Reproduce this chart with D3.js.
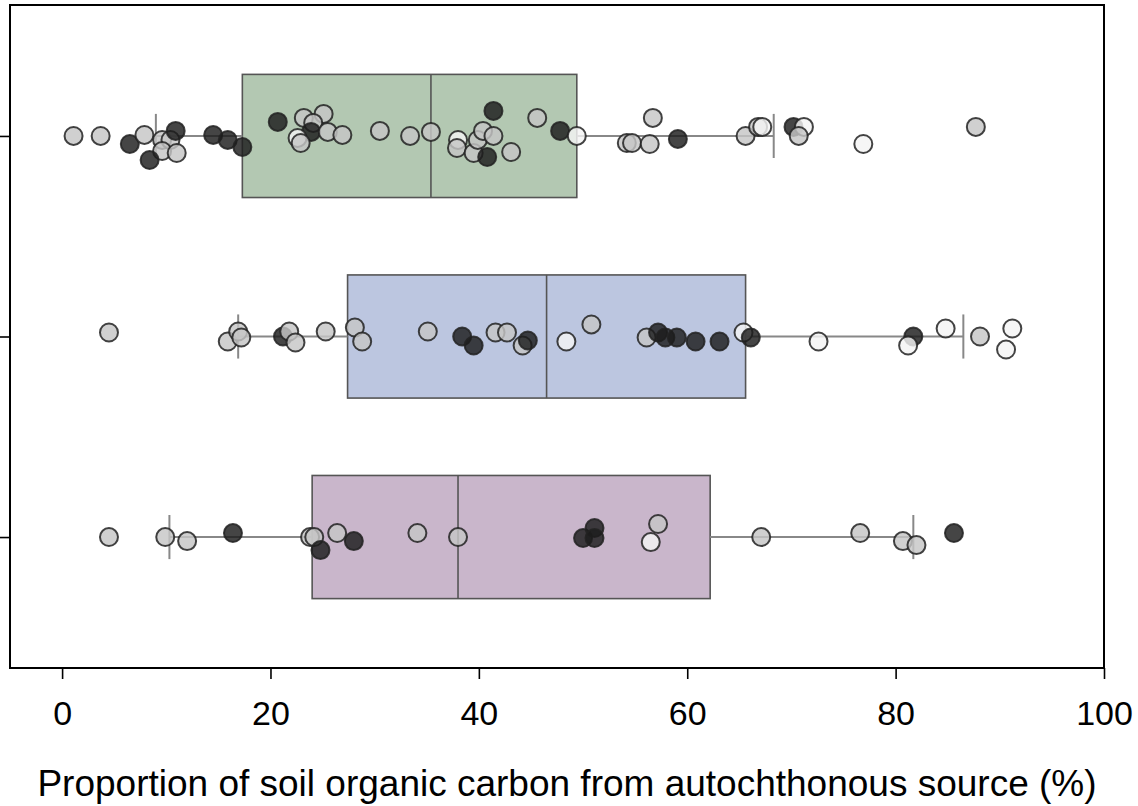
<!DOCTYPE html>
<html lang="en">
<head>
    <meta charset="UTF-8">
    <title>soil carbon</title>
    <style>
        body { margin: 0; background: #fff; }
        svg text { font-family: "Liberation Sans", Arial, sans-serif; }
    </style>
</head>
<body>
    <div class="canvas"></div>

    <script src="https://d3js.org/d3.v7.min.js"></script>
    <script>
        // groups (no labels on the y axis in the original)
        const groups = ['g1', 'g2', 'g3'];
        const boxFill = ['#b3c8b2', '#bcc6e0', '#c9b6cb'];

        // box stats
        const q1 = [17.3, 27.4, 24.0];
        const median = [35.4, 46.5, 38.0];
        const q3 = [49.4, 65.6, 62.2];
        const whiskLo = [9.0, 16.9, 10.3];
        const whiskHi = [68.3, 86.5, 81.7];

        // points: value, vertical jitter (fraction of half step), type D=dark G=grey W=white
        const vals1 = [1.1, 3.7, 6.5, 7.9, 9.6, 10.4, 10.9, 9.6, 11.0, 8.4, 14.5, 15.9, 17.3, 20.7, 23.2, 25.1, 24.1, 23.9, 25.5, 26.9,
            22.6, 22.9, 30.5, 33.4, 35.4, 38.0, 37.9, 39.5, 39.9, 40.4, 41.4, 40.8, 41.4, 43.1, 45.6, 47.8, 49.4, 54.2, 54.7, 56.4,
            56.7, 59.1, 65.6, 66.8, 67.2, 70.2, 71.2, 70.7, 76.9, 87.7];
        const jit1 = [0, 0, 0.08, -0.01, 0.04, 0.04, -0.05, 0.15, 0.17, 0.24, -0.01, 0.04, 0.11, -0.14, -0.18, -0.22, -0.13, -0.04, -0.04, -0.01,
            0.02, 0.07, -0.05, 0, -0.04, 0.04, 0.12, 0.17, 0.04, -0.05, 0, 0.21, -0.25, 0.16, -0.18, -0.05, 0, 0.07, 0.07, 0.08,
            -0.18, 0.03, 0, -0.09, -0.09, -0.09, -0.09, 0, 0.08, -0.09];
        const type1 = ['G', 'G', 'D', 'G', 'G', 'G', 'D', 'G', 'G', 'D', 'D', 'D', 'D', 'D', 'G', 'G', 'G', 'D', 'G', 'G',
            'W', 'G', 'G', 'G', 'G', 'W', 'G', 'G', 'G', 'G', 'G', 'D', 'D', 'G', 'G', 'D', 'W', 'G', 'G', 'G',
            'G', 'D', 'G', 'G', 'W', 'D', 'W', 'G', 'W', 'G'];

        const vals2 = [4.5, 15.9, 16.9, 17.2, 21.2, 21.8, 22.4, 25.3, 28.1, 28.8, 35.1, 38.4, 39.5, 41.6, 42.7, 44.2, 44.7, 48.4, 50.8, 56.1,
            57.2, 57.9, 59.0, 60.8, 63.1, 65.4, 66.1, 72.6, 81.7, 81.2, 84.8, 88.1, 91.2, 90.6];
        const jit2 = [-0.04, 0.05, -0.05, 0.01, 0, -0.05, 0.06, -0.05, -0.09, 0.05, -0.05, 0, 0.09, -0.04, -0.04, 0.09, 0.04, 0.05, -0.12, 0.01,
            -0.04, 0.01, 0.01, 0.05, 0.05, -0.04, 0.01, 0.05, 0, 0.09, -0.08, 0, -0.08, 0.13];
        const type2 = ['G', 'G', 'G', 'G', 'D', 'G', 'G', 'G', 'G', 'G', 'G', 'D', 'D', 'G', 'G', 'G', 'D', 'W', 'G', 'G',
            'D', 'D', 'D', 'D', 'D', 'W', 'D', 'W', 'D', 'W', 'W', 'G', 'W', 'W'];

        const vals3 = [4.5, 9.9, 12.0, 16.4, 23.8, 24.2, 24.8, 26.4, 28.0, 34.1, 38.0, 50.0, 51.1, 51.1, 57.2, 56.5, 67.1, 76.6, 80.7, 82.0, 85.6];
        const jit3 = [0, 0, 0.04, -0.04, 0, 0, 0.13, -0.04, 0.04, -0.04, 0, 0.01, -0.09, 0.01, -0.13, 0.05, 0, -0.04, 0.04, 0.08, -0.04];
        const type3 = ['G', 'G', 'G', 'D', 'G', 'G', 'D', 'G', 'D', 'G', 'G', 'D', 'D', 'D', 'G', 'W', 'G', 'G', 'G', 'G', 'D'];

        const xTicks = [0, 20, 40, 60, 80, 100];
        const xTitle = 'Proportion of soil organic carbon from autochthonous source (%)';

        const W = 1138, H = 806;
        const plot = { left: 10, top: 5, right: 1104, bottom: 668 };

        const svg = d3.select('.canvas')
            .append('svg')
            .attr('width', W)
            .attr('height', H);

        const x = d3.scaleLinear().domain([-5, 100]).range([plot.left, plot.right]);
        const y = d3.scalePoint().domain(groups).range([plot.top, plot.bottom]).padding(0.653);
        const step = y.step();
        const jitter = d3.scaleLinear().domain([-1, 1]).range([-step / 2, step / 2]);

        const fillOf = { D: '#1c1c1c', G: '#c6c6c6', W: '#f4f4f4' };

        // boxes
        const boxes = groups.map((g, i) => ({ g, i }));
        const bh = step * 0.307;
        const cap = step * 0.11;

        const bx = svg.append('g');
        bx.selectAll('rect.box')
            .data(boxes)
            .enter()
            .append('rect')
            .attr('class', 'box')
            .attr('x', d => x(q1[d.i]))
            .attr('y', d => y(d.g) - bh)
            .attr('width', d => x(q3[d.i]) - x(q1[d.i]))
            .attr('height', bh * 2)
            .attr('fill', d => boxFill[d.i])
            .attr('stroke', '#555')
            .attr('stroke-width', 1.6);

        bx.selectAll('line.med')
            .data(boxes)
            .enter()
            .append('line')
            .attr('x1', d => x(median[d.i]))
            .attr('x2', d => x(median[d.i]))
            .attr('y1', d => y(d.g) - bh)
            .attr('y2', d => y(d.g) + bh)
            .attr('stroke', '#555')
            .attr('stroke-width', 1.6);

        // whiskers
        const wh = [];
        boxes.forEach(d => {
            wh.push({ x1: whiskLo[d.i], x2: q1[d.i], g: d.g });
            wh.push({ x1: q3[d.i], x2: whiskHi[d.i], g: d.g });
        });
        bx.selectAll('line.wh')
            .data(wh)
            .enter()
            .append('line')
            .attr('x1', d => x(d.x1))
            .attr('x2', d => x(d.x2))
            .attr('y1', d => y(d.g))
            .attr('y2', d => y(d.g))
            .attr('stroke', '#888')
            .attr('stroke-width', 2);

        const caps = [];
        boxes.forEach(d => {
            caps.push({ v: whiskLo[d.i], g: d.g });
            caps.push({ v: whiskHi[d.i], g: d.g });
        });
        bx.selectAll('line.cap')
            .data(caps)
            .enter()
            .append('line')
            .attr('x1', d => x(d.v))
            .attr('x2', d => x(d.v))
            .attr('y1', d => y(d.g) - cap)
            .attr('y2', d => y(d.g) + cap)
            .attr('stroke', '#888')
            .attr('stroke-width', 2);

        // points
        const pts = [];
        [[vals1, jit1, type1], [vals2, jit2, type2], [vals3, jit3, type3]].forEach((s, gi) => {
            s[0].forEach((v, k) => pts.push({ v, j: s[1][k], t: s[2][k], g: groups[gi] }));
        });

        svg.append('g')
            .selectAll('circle')
            .data(pts)
            .enter()
            .append('circle')
            .attr('cx', d => x(d.v))
            .attr('cy', d => y(d.g) + jitter(d.j))
            .attr('r', 9)
            .attr('fill', d => fillOf[d.t])
            .attr('fill-opacity', 0.82)
            .attr('stroke', '#222')
            .attr('stroke-opacity', 0.85)
            .attr('stroke-width', 2);

        // frame
        svg.append('rect')
            .attr('x', plot.left)
            .attr('y', plot.top)
            .attr('width', plot.right - plot.left)
            .attr('height', plot.bottom - plot.top)
            .attr('fill', 'none')
            .attr('stroke', '#000')
            .attr('stroke-width', 2);

        // axes
        const xAxis = svg.append('g')
            .attr('transform', `translate(0,${plot.bottom})`)
            .call(d3.axisBottom(x).tickValues(xTicks).tickSize(11).tickPadding(22));
        xAxis.select('.domain').remove();
        xAxis.selectAll('line').attr('stroke', '#000').attr('stroke-width', 1.6);
        xAxis.selectAll('text').attr('font-size', 34).attr('fill', '#000');

        const yAxis = svg.append('g')
            .attr('transform', `translate(${plot.left},0)`)
            .call(d3.axisLeft(y).tickSize(10).tickFormat(''));
        yAxis.select('.domain').remove();
        yAxis.selectAll('line').attr('stroke', '#000').attr('stroke-width', 1.6);

        svg.append('text')
            .attr('x', 567)
            .attr('y', 796)
            .attr('text-anchor', 'middle')
            .attr('font-size', 37)
            .attr('fill', '#000')
            .text(xTitle);
    </script>
</body>
</html>
